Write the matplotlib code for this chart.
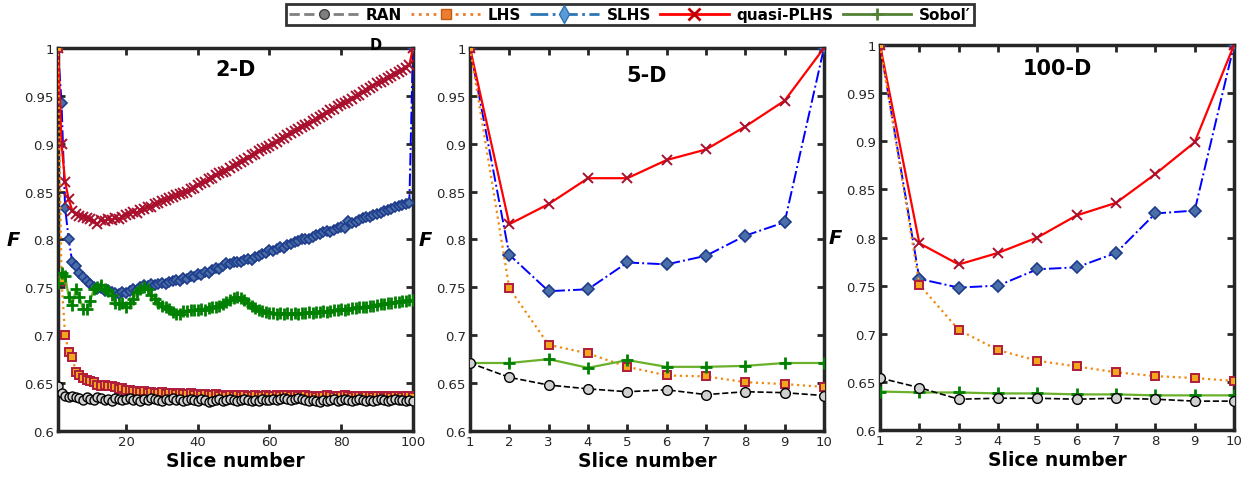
import numpy as np
import matplotlib.pyplot as plt
from matplotlib.lines import Line2D

# ---- data: 2-D case, 100 slices ----
x2 = list(range(1, 101))

ran_2d = [0.647, 0.640, 0.637, 0.635, 0.637, 0.636, 0.634, 0.632, 0.635, 0.633,
          0.632, 0.635, 0.634, 0.632, 0.633, 0.631, 0.634, 0.633, 0.632, 0.633,
          0.634, 0.632, 0.633, 0.631, 0.633, 0.632, 0.634, 0.633, 0.632, 0.631,
          0.633, 0.632, 0.634, 0.632, 0.633, 0.631, 0.632, 0.633, 0.632, 0.631,
          0.633, 0.632, 0.630, 0.631, 0.632, 0.633, 0.631, 0.632, 0.633, 0.632,
          0.631, 0.632, 0.633, 0.632, 0.631, 0.632, 0.631, 0.633, 0.632, 0.632,
          0.633, 0.632, 0.633, 0.634, 0.633, 0.632, 0.633, 0.634, 0.633, 0.632,
          0.631, 0.632, 0.631, 0.630, 0.632, 0.631, 0.632, 0.633, 0.631, 0.632,
          0.633, 0.632, 0.631, 0.632, 0.633, 0.632, 0.631, 0.632, 0.631, 0.632,
          0.633, 0.632, 0.631, 0.632, 0.633, 0.632, 0.632, 0.631, 0.632, 0.631]

lhs_2d = [1.000, 0.757, 0.700, 0.683, 0.677, 0.662, 0.658, 0.655, 0.653, 0.652,
          0.651, 0.648, 0.647, 0.648, 0.647, 0.647, 0.646, 0.644, 0.645, 0.643,
          0.643, 0.642, 0.642, 0.641, 0.642, 0.640, 0.641, 0.640, 0.640, 0.641,
          0.639, 0.640, 0.640, 0.639, 0.640, 0.639, 0.639, 0.640, 0.638, 0.639,
          0.638, 0.639, 0.638, 0.638, 0.639, 0.637, 0.638, 0.637, 0.638, 0.637,
          0.638, 0.637, 0.638, 0.637, 0.637, 0.638, 0.637, 0.637, 0.638, 0.637,
          0.637, 0.638, 0.637, 0.638, 0.638, 0.637, 0.638, 0.637, 0.637, 0.638,
          0.637, 0.637, 0.636, 0.637, 0.637, 0.638, 0.637, 0.636, 0.637, 0.637,
          0.638, 0.637, 0.636, 0.637, 0.637, 0.636, 0.637, 0.637, 0.636, 0.637,
          0.637, 0.636, 0.637, 0.636, 0.637, 0.637, 0.636, 0.637, 0.637, 0.636]

slhs_2d = [1.000, 0.943, 0.833, 0.800, 0.776, 0.772, 0.765, 0.761, 0.757, 0.753,
           0.750, 0.748, 0.749, 0.746, 0.747, 0.745, 0.744, 0.743, 0.745, 0.744,
           0.746, 0.748, 0.747, 0.750, 0.752, 0.751, 0.753, 0.752, 0.754, 0.755,
           0.753, 0.756, 0.757, 0.758, 0.757, 0.760, 0.759, 0.762, 0.761, 0.764,
           0.763, 0.766, 0.765, 0.768, 0.770, 0.769, 0.772, 0.775, 0.774, 0.776,
           0.777, 0.776, 0.779, 0.780, 0.779, 0.782, 0.783, 0.785, 0.786, 0.789,
           0.788, 0.790, 0.792, 0.791, 0.794, 0.795, 0.797, 0.798, 0.800, 0.801,
           0.800, 0.803, 0.805, 0.806, 0.808, 0.809, 0.808, 0.810, 0.812, 0.813,
           0.812, 0.819, 0.817, 0.818, 0.820, 0.822, 0.823, 0.824, 0.826, 0.827,
           0.828, 0.830, 0.831, 0.832, 0.834, 0.835, 0.836, 0.837, 0.838, 1.000]

qplhs_2d = [1.000, 0.900, 0.860, 0.842, 0.830, 0.827, 0.825, 0.824, 0.822, 0.821,
            0.819, 0.816, 0.820, 0.819, 0.821, 0.820, 0.822, 0.821, 0.823, 0.826,
            0.827, 0.829, 0.828, 0.831, 0.832, 0.834, 0.834, 0.837, 0.838, 0.840,
            0.841, 0.843, 0.844, 0.846, 0.847, 0.849, 0.850, 0.853, 0.854, 0.857,
            0.859, 0.860, 0.863, 0.864, 0.867, 0.869, 0.871, 0.872, 0.875, 0.877,
            0.879, 0.881, 0.883, 0.885, 0.888, 0.889, 0.892, 0.894, 0.896, 0.898,
            0.900, 0.902, 0.905, 0.906, 0.909, 0.911, 0.913, 0.915, 0.917, 0.920,
            0.921, 0.924, 0.926, 0.928, 0.930, 0.932, 0.935, 0.936, 0.939, 0.941,
            0.943, 0.945, 0.947, 0.950, 0.951, 0.954, 0.956, 0.958, 0.960, 0.963,
            0.964, 0.967, 0.969, 0.971, 0.973, 0.975, 0.977, 0.979, 0.982, 1.000]

sobol_2d = [0.755, 0.765, 0.762, 0.740, 0.732, 0.748, 0.740, 0.727, 0.727, 0.736,
            0.748, 0.750, 0.752, 0.748, 0.746, 0.742, 0.734, 0.733, 0.734, 0.730,
            0.734, 0.738, 0.745, 0.748, 0.750, 0.748, 0.742, 0.738, 0.734, 0.731,
            0.729, 0.727, 0.724, 0.722, 0.722, 0.725, 0.725, 0.726, 0.726, 0.726,
            0.727, 0.726, 0.728, 0.729, 0.730, 0.731, 0.733, 0.735, 0.737, 0.739,
            0.740, 0.739, 0.737, 0.734, 0.731, 0.728, 0.726, 0.725, 0.724, 0.723,
            0.723, 0.722, 0.723, 0.722, 0.723, 0.722, 0.723, 0.722, 0.723, 0.723,
            0.724, 0.723, 0.724, 0.724, 0.725, 0.724, 0.725, 0.726, 0.726, 0.727,
            0.726, 0.727, 0.728, 0.728, 0.729, 0.730, 0.730, 0.731, 0.731, 0.732,
            0.733, 0.733, 0.734, 0.734, 0.735, 0.735, 0.736, 0.736, 0.737, 0.737]

# ---- data: 5-D and 100-D cases, 10 slices ----
x10 = list(range(1, 11))

ran_5d = [0.671, 0.656, 0.648, 0.644, 0.641, 0.643, 0.638, 0.641, 0.640, 0.637]
lhs_5d = [1.000, 0.749, 0.690, 0.681, 0.667, 0.658, 0.657, 0.651, 0.649, 0.646]
slhs_5d = [1.000, 0.784, 0.746, 0.748, 0.776, 0.774, 0.783, 0.804, 0.818, 1.000]
qplhs_5d = [1.000, 0.816, 0.837, 0.864, 0.864, 0.883, 0.894, 0.918, 0.945, 1.000]
sobol_5d = [0.671, 0.671, 0.675, 0.666, 0.674, 0.667, 0.667, 0.668, 0.671, 0.671]

ran_100d = [0.654, 0.644, 0.632, 0.633, 0.633, 0.632, 0.633, 0.632, 0.630, 0.630]
lhs_100d = [1.000, 0.751, 0.704, 0.683, 0.672, 0.666, 0.660, 0.656, 0.654, 0.651]
slhs_100d = [1.000, 0.757, 0.748, 0.750, 0.767, 0.769, 0.784, 0.825, 0.828, 1.000]
qplhs_100d = [1.000, 0.794, 0.772, 0.784, 0.800, 0.823, 0.836, 0.866, 0.899, 1.000]
sobol_100d = [0.640, 0.639, 0.639, 0.638, 0.638, 0.637, 0.637, 0.636, 0.636, 0.636]

titles = ['2-D', '5-D', '100-D']
title_y = [0.945, 0.93, 0.94]
labels = ['RAN', 'LHS', 'SLHS', 'quasi-PLHS', 'Sobol\u2032']

dark = '#262626'
plt.rcParams['font.family'] = 'DejaVu Sans'

fig = plt.figure(figsize=(12.49, 4.89), dpi=100)
rects = [[0.0464, 0.1166, 0.2842, 0.7832],
         [0.3763, 0.1166, 0.2834, 0.7832],
         [0.7046, 0.1186, 0.2834, 0.7873]]

panels = [(x2, ran_2d, lhs_2d, slhs_2d, qplhs_2d, sobol_2d),
          (x10, ran_5d, lhs_5d, slhs_5d, qplhs_5d, sobol_5d),
          (x10, ran_100d, lhs_100d, slhs_100d, qplhs_100d, sobol_100d)]

for i, (x, ran, lhs, slhs, qp, sob) in enumerate(panels):
    ax = fig.add_axes(rects[i])
    ms = 6.5 if i == 0 else 7
    ax.plot(x, slhs, color='#0000ff', ls='-.', lw=1.4, marker='D', ms=ms - 1,
            mfc='#4a6fa8', mec='#1f3c8c', mew=1.2, zorder=3)
    ax.plot(x, qp, color='#ff0000', ls='-', lw=1.6, marker='x', ms=ms,
            mec='#a8102e', mew=1.4, zorder=3)
    ax.plot(x, lhs, color='#f08a10', ls=':', lw=1.6, marker='s', ms=ms - 1,
            mfc='#f2a81c', mec='#b01c3c', mew=1.4, zorder=4)
    ax.plot(x, sob, color='#6ab02a', ls='-', lw=1.6, marker='+', ms=ms + 2,
            mec='#008000', mew=2.0, zorder=4)
    ax.plot(x, ran, color='black', ls='--', lw=1.2, marker='o', ms=ms,
            mfc='#d0d0d0', mec='black', mew=1.0, zorder=5)

    ax.set_ylim(0.6, 1.0)
    ax.set_yticks(np.arange(0.6, 1.001, 0.05))
    ax.set_yticklabels(['0.6', '0.65', '0.7', '0.75', '0.8', '0.85', '0.9', '0.95', '1'])
    if i == 0:
        ax.set_xlim(1, 100)
        ax.set_xticks([20, 40, 60, 80, 100])
    else:
        ax.set_xlim(1, 10)
        ax.set_xticks(x10)
    ax.tick_params(direction='in', length=5, width=2, top=True, right=True,
                   labelsize=9.5, labelcolor=dark, color=dark, pad=3)
    for s in ax.spines.values():
        s.set_linewidth(2.5)
        s.set_color(dark)
    ax.set_xlabel('Slice number', fontsize=13.5, fontweight='bold', labelpad=2)
    ax.set_ylabel('F', fontsize=14, fontweight='bold', style='italic',
                  rotation=0, labelpad=8, va='center')
    ax.text(0.5, title_y[i], titles[i], transform=ax.transAxes, ha='center',
            va='center', fontsize=15, fontweight='bold')

# stray label fragment that sits on the top edge of the first panel
fig.text(376 / 1249, 1 - 45 / 489, 'D', fontsize=10.5, fontweight='bold',
         ha='center', va='center', zorder=0)

handles = [
    Line2D([], [], color='#808080', ls='--', lw=2, marker='o', ms=7,
           mfc='#7f7f7f', mec='#404040'),
    Line2D([], [], color='#ed7d31', ls=':', lw=2, marker='s', ms=7,
           mfc='#ed7d31', mec='#c55a11'),
    Line2D([], [], color='#2e75b6', ls='-.', lw=2, marker='d', ms=9,
           mfc='#5b9bd5', mec='#2e75b6'),
    Line2D([], [], color='#ff0000', ls='-', lw=2, marker='x', ms=8,
           mec='#c00000', mew=2),
    Line2D([], [], color='#548235', ls='-', lw=2, marker='+', ms=8,
           mec='#548235', mew=2),
]
leg = fig.legend(handles, labels, loc='upper center', bbox_to_anchor=(630 / 1249, 1.005),
                 ncol=5, frameon=True, fancybox=False, handlelength=4.5,
                 columnspacing=0.6, handletextpad=0.5, borderpad=0.2,
                 prop={'weight': 'bold', 'size': 11})
leg.get_frame().set_edgecolor('black')
leg.get_frame().set_linewidth(2.0)
leg.set_zorder(10)

fig.savefig('out.png', dpi=100)
